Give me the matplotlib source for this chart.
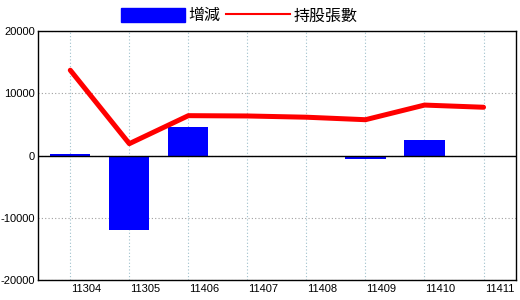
import matplotlib
matplotlib.use("Agg")
import matplotlib.pyplot as plt
import matplotlib.transforms as mtransforms
from matplotlib.patches import Patch
from matplotlib.lines import Line2D
import numpy as np

plt.rcParams['font.family'] = ['Noto Sans CJK TC', 'DejaVu Sans']

months = ['11304', '11305', '11406', '11407', '11408', '11409', '11410', '11411']
change = [300, -12000, 4600, 0, 0, -500, 2500, 0]
holdings = [13700, 1900, 6400, 6350, 6150, 5750, 8100, 7750]

fig = plt.figure(figsize=(5.2, 3.0), dpi=100)
ax = fig.add_axes([38 / 520, 20 / 300, 478 / 520, 249 / 300])

x = np.arange(len(months))
ax.bar(x, change, width=0.68, color='#0000ff', zorder=3)
ax.plot(x, holdings, color='#ff0000', linewidth=3.6, zorder=4, solid_capstyle='round')
ax.axhline(0, color='black', linewidth=1.0, zorder=3)

ax.set_xlim(-0.547, 7.55)
ax.set_ylim(-20000, 20000)
ax.set_yticks([-20000, -10000, 0, 10000, 20000])
ax.set_yticklabels(['-20000', '-10000', '0', '10000', '20000'], family='Liberation Sans', fontsize=8)
ax.set_xticks(x)
ax.set_xticklabels(months, family='Liberation Sans', fontsize=8)
ax.tick_params(length=0, pad=3)
ax.tick_params(axis='y', pad=2)
offset = mtransforms.ScaledTranslation(16 / 100, 0, fig.dpi_scale_trans)
for lbl in ax.get_xticklabels():
    lbl.set_transform(lbl.get_transform() + offset)

ax.xaxis.grid(True, linestyle=(0, (1, 2)), color='#9ec0cc', linewidth=0.8, zorder=0)
ax.yaxis.grid(True, linestyle=(0, (1, 2)), color='#a0a0a0', linewidth=0.8, zorder=0)
ax.set_axisbelow(True)
for s in ax.spines.values():
    s.set_linewidth(1.0)

handles = [Patch(color='#0000ff', label='增減'),
           Line2D([0], [0], color='#ff0000', linewidth=1.5, label='持股張數')]
fig.legend(handles=handles, loc='center', bbox_to_anchor=(0.46, 0.947), ncol=2, frameon=False,
           fontsize=11.5, handlelength=4.0, handleheight=1.0, columnspacing=0.4,
           handletextpad=0.2, borderpad=0)

fig.savefig('out.png', dpi=100)
